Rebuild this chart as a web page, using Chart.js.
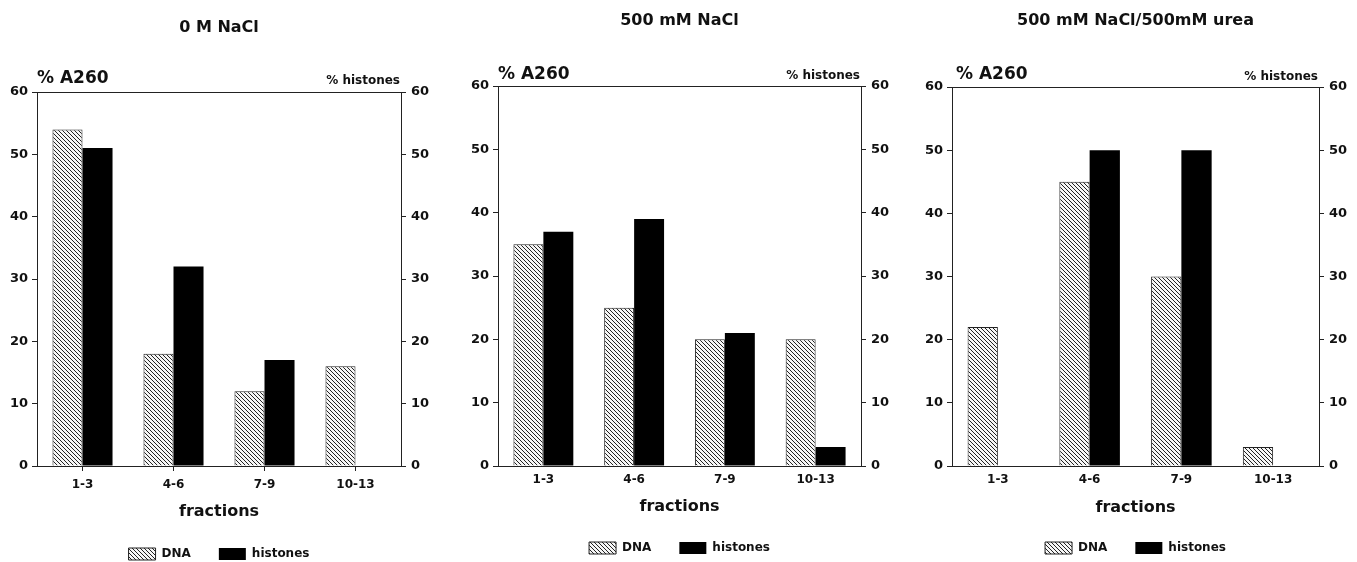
<!DOCTYPE html>
<html><head><meta charset="utf-8">
<script src="https://cdn.jsdelivr.net/npm/chart.js@4.4.1/dist/chart.umd.min.js"></script>
<style>
html,body{margin:0;padding:0;background:#fff;width:1357px;height:562px;overflow:hidden;position:relative;}
canvas.panel{position:absolute;top:0;}
</style></head><body>
<canvas id="c1" class="panel" style="left:0px" width="452" height="575"></canvas>
<canvas id="c2" class="panel" style="left:452px" width="453" height="575"></canvas>
<canvas id="c3" class="panel" style="left:905px" width="452" height="575"></canvas>
<script>
// ---- data ----
const categories = ['1-3', '4-6', '7-9', '10-13'];
const panelTitles = ['0 M NaCl', '500 mM NaCl', '500 mM NaCl/500mM urea'];
const seriesNames = ['DNA', 'histones'];
const dnaNaCl0 = [54, 18, 12, 16];
const histonesNaCl0 = [51, 32, 17, null];
const dnaNaCl500 = [35, 25, 20, 20];
const histonesNaCl500 = [37, 39, 21, 3];
const dnaUrea = [22, 45, 30, 3];
const histonesUrea = [null, 50, 50, null];
const yTicks = [0, 10, 20, 30, 40, 50, 60];
const leftAxisLabel = '% A260';
const rightAxisLabel = '% histones';
const xAxisLabel = 'fractions';

// ---- styling ----
const FONT = '"DejaVu Sans", "Liberation Sans", sans-serif';
const INK = '#111';

function makeHatch() {
  const t = document.createElement('canvas');
  t.width = 4; t.height = 4;
  const g = t.getContext('2d');
  g.fillStyle = '#f6f6f6'; g.fillRect(0, 0, 4, 4);
  g.strokeStyle = '#222'; g.lineWidth = 1.0;
  g.beginPath();
  g.moveTo(-1, -1); g.lineTo(5, 5);
  g.moveTo(-1, 3); g.lineTo(1, 5);
  g.moveTo(3, -1); g.lineTo(5, 1);
  g.stroke();
  return document.createElement('canvas').getContext('2d').createPattern(t, 'repeat');
}
const hatch = makeHatch();

const frameLabels = {
  id: 'frameLabels',
  afterDraw(chart, args, opts) {
    const {ctx, chartArea: {left, right, top}} = chart;
    ctx.save();
    ctx.strokeStyle = '#222'; ctx.lineWidth = 1;
    ctx.beginPath(); ctx.moveTo(left, Math.round(top) + 0.5); ctx.lineTo(right, Math.round(top) + 0.5); ctx.stroke();
    ctx.fillStyle = INK; ctx.textBaseline = 'alphabetic';
    ctx.font = 'bold 17px ' + FONT; ctx.textAlign = 'left';
    ctx.fillText(leftAxisLabel, left + opts.aDx, top - opts.aDy);
    ctx.font = 'bold 12px ' + FONT; ctx.textAlign = 'right';
    ctx.fillText(rightAxisLabel, right - 1, top - opts.hDy);
    ctx.restore();
  }
};

const panels = [
  {id: 'c1', title: panelTitles[0], dna: dnaNaCl0, his: histonesNaCl0,
   lw: 37, rw: 51, tTop: 18, tBot: 54, xH: 54, pb: 5, xTicks: true, xPad: 7, xTitleLH: 16, aDx: 0, aDy: 9, hDy: 8},
  {id: 'c2', title: panelTitles[1], dna: dnaNaCl500, his: histonesNaCl500,
   lw: 46, rw: 44, tTop: 11, tBot: 55, xH: 48, pb: 11, xTicks: false, xPad: 7, xTitleLH: 14, aDx: 0, aDy: 7, hDy: 7},
  {id: 'c3', title: panelTitles[2], dna: dnaUrea, his: histonesUrea,
   lw: 47, rw: 38, tTop: 11, tBot: 56, xH: 48, pb: 11, xTicks: false, xPad: 7, xTitleLH: 12, aDx: 4, aDy: 8, hDy: 7}
];

function yAxis(position, width, pad) {
  return {
    type: 'linear', position, min: 0, max: 60,
    afterBuildTicks: (s) => { s.ticks = yTicks.map(v => ({value: v})); },
    afterFit: (s) => { s.width = width; },
    ticks: {color: INK, padding: pad, font: {family: FONT, size: 13, weight: 'bold'}},
    grid: {display: true, drawOnChartArea: false, drawTicks: true, tickLength: 5, tickColor: '#222', color: '#222'},
    border: {display: true, color: '#222', width: 1}
  };
}

panels.forEach(p => {
  new Chart(document.getElementById(p.id), {
    type: 'bar',
    data: {
      labels: categories,
      datasets: [
        {label: seriesNames[0], data: p.dna, yAxisID: 'y', backgroundColor: hatch, borderColor: '#222', borderWidth: 1},
        {label: seriesNames[1], data: p.his, yAxisID: 'y2', backgroundColor: '#000', borderColor: '#000', borderWidth: 0}
      ]
    },
    options: {
      responsive: false, animation: false,
      layout: {padding: {left: 0, right: 0, top: 0, bottom: p.pb}},
      datasets: {bar: {categoryPercentage: 0.66, barPercentage: 1.0}},
      scales: {
        x: {
          type: 'category', offset: true,
          afterFit: (s) => { s.height = p.xH; },
          ticks: {color: INK, padding: p.xPad, font: {family: FONT, size: 12, weight: 'bold'}},
          grid: {display: true, drawOnChartArea: false, offset: false, drawTicks: p.xTicks, tickLength: 5, tickColor: '#222', color: '#222'},
          border: {display: true, color: '#222', width: 1},
          title: {display: true, text: xAxisLabel, color: INK, padding: {top: 0, bottom: 0},
                  font: {family: FONT, size: 16, weight: 'bold', lineHeight: p.xTitleLH + 'px'}}
        },
        y: yAxis('left', p.lw, 4),
        y2: yAxis('right', p.rw, 5)
      },
      plugins: {
        title: {display: true, text: p.title, fullSize: false, color: INK,
                font: {family: FONT, size: 16, weight: 'bold', lineHeight: '20px'},
                padding: {top: p.tTop, bottom: p.tBot}},
        legend: {display: true, position: 'bottom', fullSize: false,
                 labels: {color: INK, boxWidth: 27, boxHeight: 12, padding: 28,
                          font: {family: FONT, size: 12, weight: 'bold'}}},
        tooltip: {enabled: false},
        frameLabels: {aDx: p.aDx, aDy: p.aDy, hDy: p.hDy}
      }
    },
    plugins: [frameLabels]
  });
});
</script>
</body></html>
